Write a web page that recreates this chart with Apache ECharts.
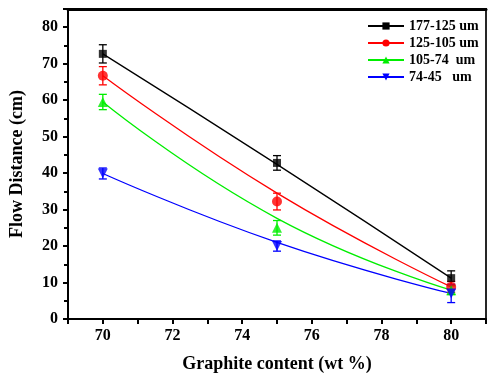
<!DOCTYPE html>
<html>
<head>
<meta charset="utf-8">
<script src="https://cdn.jsdelivr.net/npm/echarts@6/dist/echarts.min.js"></script>
<style>
  html, body { margin: 0; padding: 0; background: #fff; }
  #chart { width: 489px; height: 380px; }
</style>
</head>
<body>
<div id="chart"></div>
<script>
// graphite content (wt %)
const content = [70, 75, 80];
const seriesNames = ['177-125 um', '125-105 um', '105-74  um', '74-45   um'];
const colors = ['#000000', '#ff0000', '#00ee00', '#0000ff'];
const symbols = ['rect', 'circle', 'triangle', 'triangle'];
const rotations = [0, 0, 0, 180];

// measured flow distance (cm) and error
const measured = [
  [72.7, 42.8, 11.2],
  [66.7, 32.2, 8.8],
  [59.5, 25.0, 7.9],
  [39.9, 20.0, 7.0]
];
const errors = [
  [2.5, 2.0, 2.0],
  [2.5, 2.3, 1.5],
  [2.1, 2.0, 1.2],
  [1.5, 1.4, 2.5]
];
// fitted curve values
const fitted = [
  [72.7, 42.4, 11.2],
  [66.7, 34.5, 8.8],
  [59.5, 27.6, 7.9],
  [39.9, 21.0, 7.0]
];

const chart = echarts.init(document.getElementById('chart'));
const font = 'Liberation Serif';

const series = [];
seriesNames.forEach((name, i) => {
  // fit line
  series.push({
    name: name,
    type: 'line',
    smooth: 0.5,
    data: content.map((x, j) => [x, fitted[i][j]]),
    symbol: symbols[i],
    symbolRotate: rotations[i],
    symbolSize: 8,
    showSymbol: false,
    lineStyle: { color: colors[i], width: 1.3 },
    itemStyle: { color: colors[i] },
    z: 2
  });
  // error bars
  series.push({
    type: 'custom',
    data: content.map((x, j) => [x, measured[i][j] - errors[i][j], measured[i][j] + errors[i][j]]),
    renderItem: (params, api) => {
      const lo = api.coord([api.value(0), api.value(1)]);
      const hi = api.coord([api.value(0), api.value(2)]);
      const w = 4;
      const style = { stroke: colors[i], lineWidth: 1.3 };
      return {
        type: 'group',
        children: [
          { type: 'line', shape: { x1: lo[0], y1: lo[1], x2: hi[0], y2: hi[1] }, style },
          { type: 'line', shape: { x1: lo[0] - w, y1: lo[1], x2: lo[0] + w, y2: lo[1] }, style },
          { type: 'line', shape: { x1: hi[0] - w, y1: hi[1], x2: hi[0] + w, y2: hi[1] }, style }
        ]
      };
    },
    z: 3
  });
  // measured points
  series.push({
    type: 'scatter',
    data: content.map((x, j) => [x, measured[i][j]]),
    symbol: symbols[i],
    symbolRotate: rotations[i],
    symbolSize: i === 0 ? 8 : 10,
    itemStyle: { color: colors[i] },
    z: 4
  });
});

const axisText = { fontFamily: font, fontWeight: 'bold', fontSize: 16, color: '#000' };

const option = {
  animation: false,
  grid: {
    left: 68, top: 9, right: 3, bottom: 61,
    show: true, borderColor: '#000', borderWidth: 2, backgroundColor: 'transparent'
  },
  legend: {
    data: seriesNames,
    orient: 'vertical',
    left: 362,
    top: 14,
    itemWidth: 36,
    itemHeight: 9,
    itemGap: 3,
    textStyle: { fontFamily: font, fontWeight: 'bold', fontSize: 14, color: '#000' }
  },
  xAxis: [{
    type: 'value',
    min: 69,
    max: 81,
    interval: 1,
    name: 'Graphite content (wt %)',
    nameLocation: 'middle',
    nameGap: 36,
    nameTextStyle: { fontFamily: font, fontWeight: 'bold', fontSize: 18, color: '#000' },
    axisLine: { onZero: false, lineStyle: { color: '#000', width: 2 } },
    axisTick: { length: 5, lineStyle: { color: '#000', width: 2 } },
    axisLabel: Object.assign({
      margin: 9,
      formatter: v => (v % 2 === 0 && v >= 70 && v <= 80) ? String(v) : ''
    }, axisText),
    splitLine: { show: false }
  }, {
    type: 'value',
    position: 'top',
    min: 69,
    max: 81,
    show: true,
    axisLine: { show: true, onZero: false, lineStyle: { color: '#000', width: 3 } },
    axisTick: { show: false },
    axisLabel: { show: false },
    splitLine: { show: false }
  }],
  yAxis: [{
    type: 'value',
    min: 0,
    max: 85,
    interval: 10,
    name: 'Flow Distance (cm)',
    nameLocation: 'middle',
    nameGap: 42,
    nameTextStyle: { fontFamily: font, fontWeight: 'bold', fontSize: 18, color: '#000' },
    axisLine: { show: true, onZero: false, lineStyle: { color: '#000', width: 2 } },
    axisTick: { length: 5, lineStyle: { color: '#000', width: 2 } },
    minorTick: { show: true, splitNumber: 2, length: 4, lineStyle: { color: '#000', width: 2 } },
    axisLabel: Object.assign({
      margin: 10,
      formatter: v => v <= 80 ? String(v) : ''
    }, axisText),
    splitLine: { show: false }
  }, {
    type: 'value',
    position: 'right',
    min: 0,
    max: 85,
    show: true,
    axisLine: { show: true, onZero: false, lineStyle: { color: '#333', width: 1.5 } },
    axisTick: { show: false },
    axisLabel: { show: false },
    splitLine: { show: false }
  }],
  series: series
};

chart.setOption(option);
</script>
</body>
</html>
